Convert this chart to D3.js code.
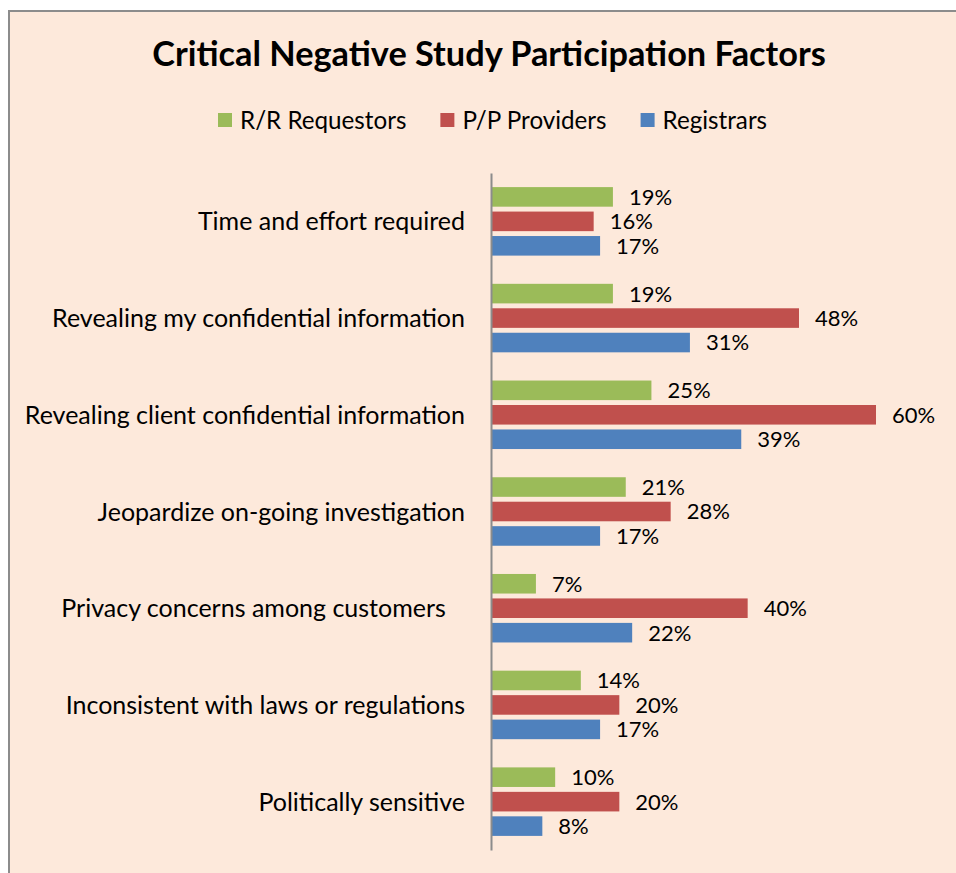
<!DOCTYPE html>
<html>
<head>
<meta charset="utf-8">
<script src="https://cdn.jsdelivr.net/npm/d3@7"></script>
<style>
  html, body { margin: 0; padding: 0; background: #ffffff; }
  svg text { white-space: pre; }
</style>
</head>
<body>
<svg id="chart" width="956" height="873"></svg>
<script>
const categories = [
  "Time and effort required",
  "Revealing my confidential information",
  "Revealing client confidential information",
  "Jeopardize on-going investigation",
  "Privacy concerns among customers   ",
  "Inconsistent with laws or regulations",
  "Politically sensitive"
];
const seriesNames = ["R/R Requestors", "P/P Providers", "Registrars"];
const requestors = [19, 19, 25, 21, 7, 14, 10];
const providers  = [16, 48, 60, 28, 40, 20, 20];
const registrars = [17, 31, 39, 17, 22, 17, 8];
const seriesColors = ["#9BBB59", "#C0504D", "#4F81BD"];
const title = "Critical Negative Study Participation Factors";

const seriesValues = [requestors, providers, registrars];
const FONT = "Lato, 'Open Sans', sans-serif";

const svg = d3.select("#chart");

// chart area background + border
svg.append("rect")
  .attr("x", 9).attr("y", 11)
  .attr("width", 960).attr("height", 880)
  .attr("fill", "#FDE9DB")
  .attr("stroke", "#8c8c8c").attr("stroke-width", 2);

// title
svg.append("text")
  .attr("x", 489).attr("y", 66)
  .attr("text-anchor", "middle")
  .attr("font-family", FONT)
  .attr("font-weight", "bold")
  .attr("font-size", 34.3)
  .attr("fill", "#000")
  .text(title);

// scales
const y0 = d3.scaleBand().domain(categories).range([173, 850]).paddingInner(0).paddingOuter(0);
const innerSpan = 68.5;
const y1 = d3.scaleBand().domain(seriesNames)
  .range([(y0.bandwidth() - innerSpan) / 2, (y0.bandwidth() + innerSpan) / 2])
  .paddingInner(0.2).paddingOuter(0);
const x = d3.scaleLinear().domain([0, 60]).range([491, 876]);

// bars
const groups = svg.append("g").selectAll("g")
  .data(categories)
  .join("g")
  .attr("transform", d => `translate(0,${y0(d)})`);

groups.each(function(cat, ci) {
  const g = d3.select(this);
  seriesNames.forEach((s, si) => {
    const v = seriesValues[si][ci];
    g.append("rect")
      .attr("x", x(0))
      .attr("y", y1(s))
      .attr("width", x(v) - x(0))
      .attr("height", y1.bandwidth())
      .attr("fill", seriesColors[si]);
    g.append("text")
      .attr("x", x(v) + 16)
      .attr("y", y1(s) + y1.bandwidth() / 2)
      .attr("dy", "0.36em")
      .attr("font-family", FONT)
      .attr("font-size", 22)
      .attr("fill", "#000")
      .text(v + "%");
  });
});

// axis (category axis, no ticks)
const yAxis = d3.axisLeft(y0).tickSize(0).tickPadding(26);
const axisG = svg.append("g")
  .attr("transform", `translate(${x(0)},0)`)
  .call(yAxis);
axisG.select(".domain").attr("stroke", "#8c8c8c").attr("stroke-width", 2);
axisG.selectAll("text")
  .attr("font-family", FONT)
  .attr("font-size", 25)
  .attr("fill", "#000")
  .attr("dy", "0.36em");

// legend
const legend = svg.append("g");
const items = [];
seriesNames.forEach((s, i) => {
  const it = legend.append("g");
  it.append("rect").attr("x", 0).attr("y", -7).attr("width", 14).attr("height", 14).attr("fill", seriesColors[i]);
  const t = it.append("text").attr("x", 22).attr("y", 0).attr("dy", "0.36em")
    .attr("font-family", FONT).attr("font-size", 24.2).attr("fill", "#000").text(s);
  const w = 22 + t.node().getComputedTextLength();
  items.push({ it, w });
});
const gap = 34;
let lx = 218;
items.forEach(d => { d.it.attr("transform", `translate(${lx},120)`); lx += d.w + gap; });
</script>
</body>
</html>
